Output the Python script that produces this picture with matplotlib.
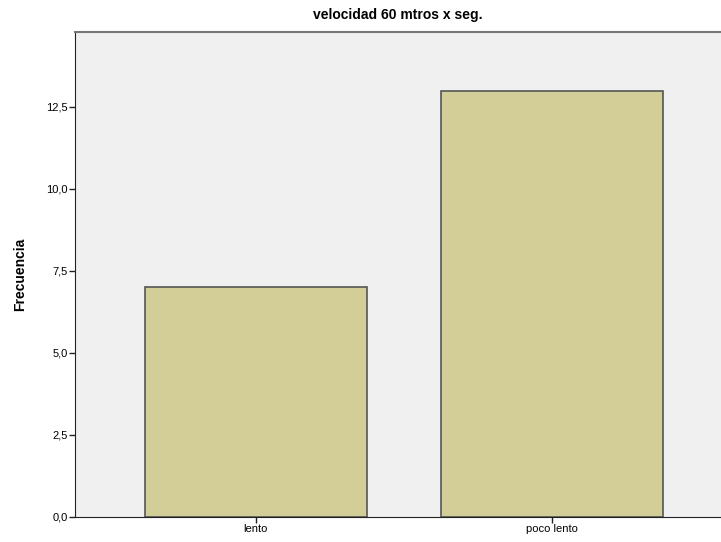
import numpy as np
import matplotlib.pyplot as plt

plt.rcParams['font.family'] = ['Liberation Sans', 'DejaVu Sans']

categorias = ['lento', 'poco lento']
frecuencia = [7, 13]
yticks = [0.0, 2.5, 5.0, 7.5, 10.0, 12.5]
ytick_labels = ['0,0', '2,5', '5,0', '7,5', '10,0', '12,5']

W, H = 721, 542
fig = plt.figure(figsize=(W / 100, H / 100), dpi=100)
ax = fig.add_axes([75 / W, (H - 517) / H, (W - 75) / W, (517 - 32.5) / H])
ax.set_facecolor('#F0F0F0')

x = np.arange(len(categorias))
ax.bar(x, frecuencia, width=0.75, color='#D3CE97', edgecolor='#555555', linewidth=1.2, zorder=2)

ax.set_xlim(-0.611, 1.571)
ax.set_ylim(0, 14.77)
ax.set_xticks(x)
ax.set_xticklabels(categorias, fontsize=8)
ax.set_yticks(yticks)
ax.set_yticklabels(ytick_labels, fontsize=8)
ax.tick_params(axis='both', length=4, width=1, color='#222222', pad=1)

ax.spines['right'].set_visible(False)
ax.spines['top'].set_color('#777777')
ax.spines['top'].set_linewidth(1.5)
ax.spines['left'].set_color('#222222')
ax.spines['bottom'].set_color('#222222')

ax.set_ylabel('Frecuencia', fontsize=10, fontweight='bold', labelpad=14)
ax.set_title('velocidad 60 mtros x seg.', fontsize=10, fontweight='bold', pad=10)

fig.savefig('out.png', dpi=100)
